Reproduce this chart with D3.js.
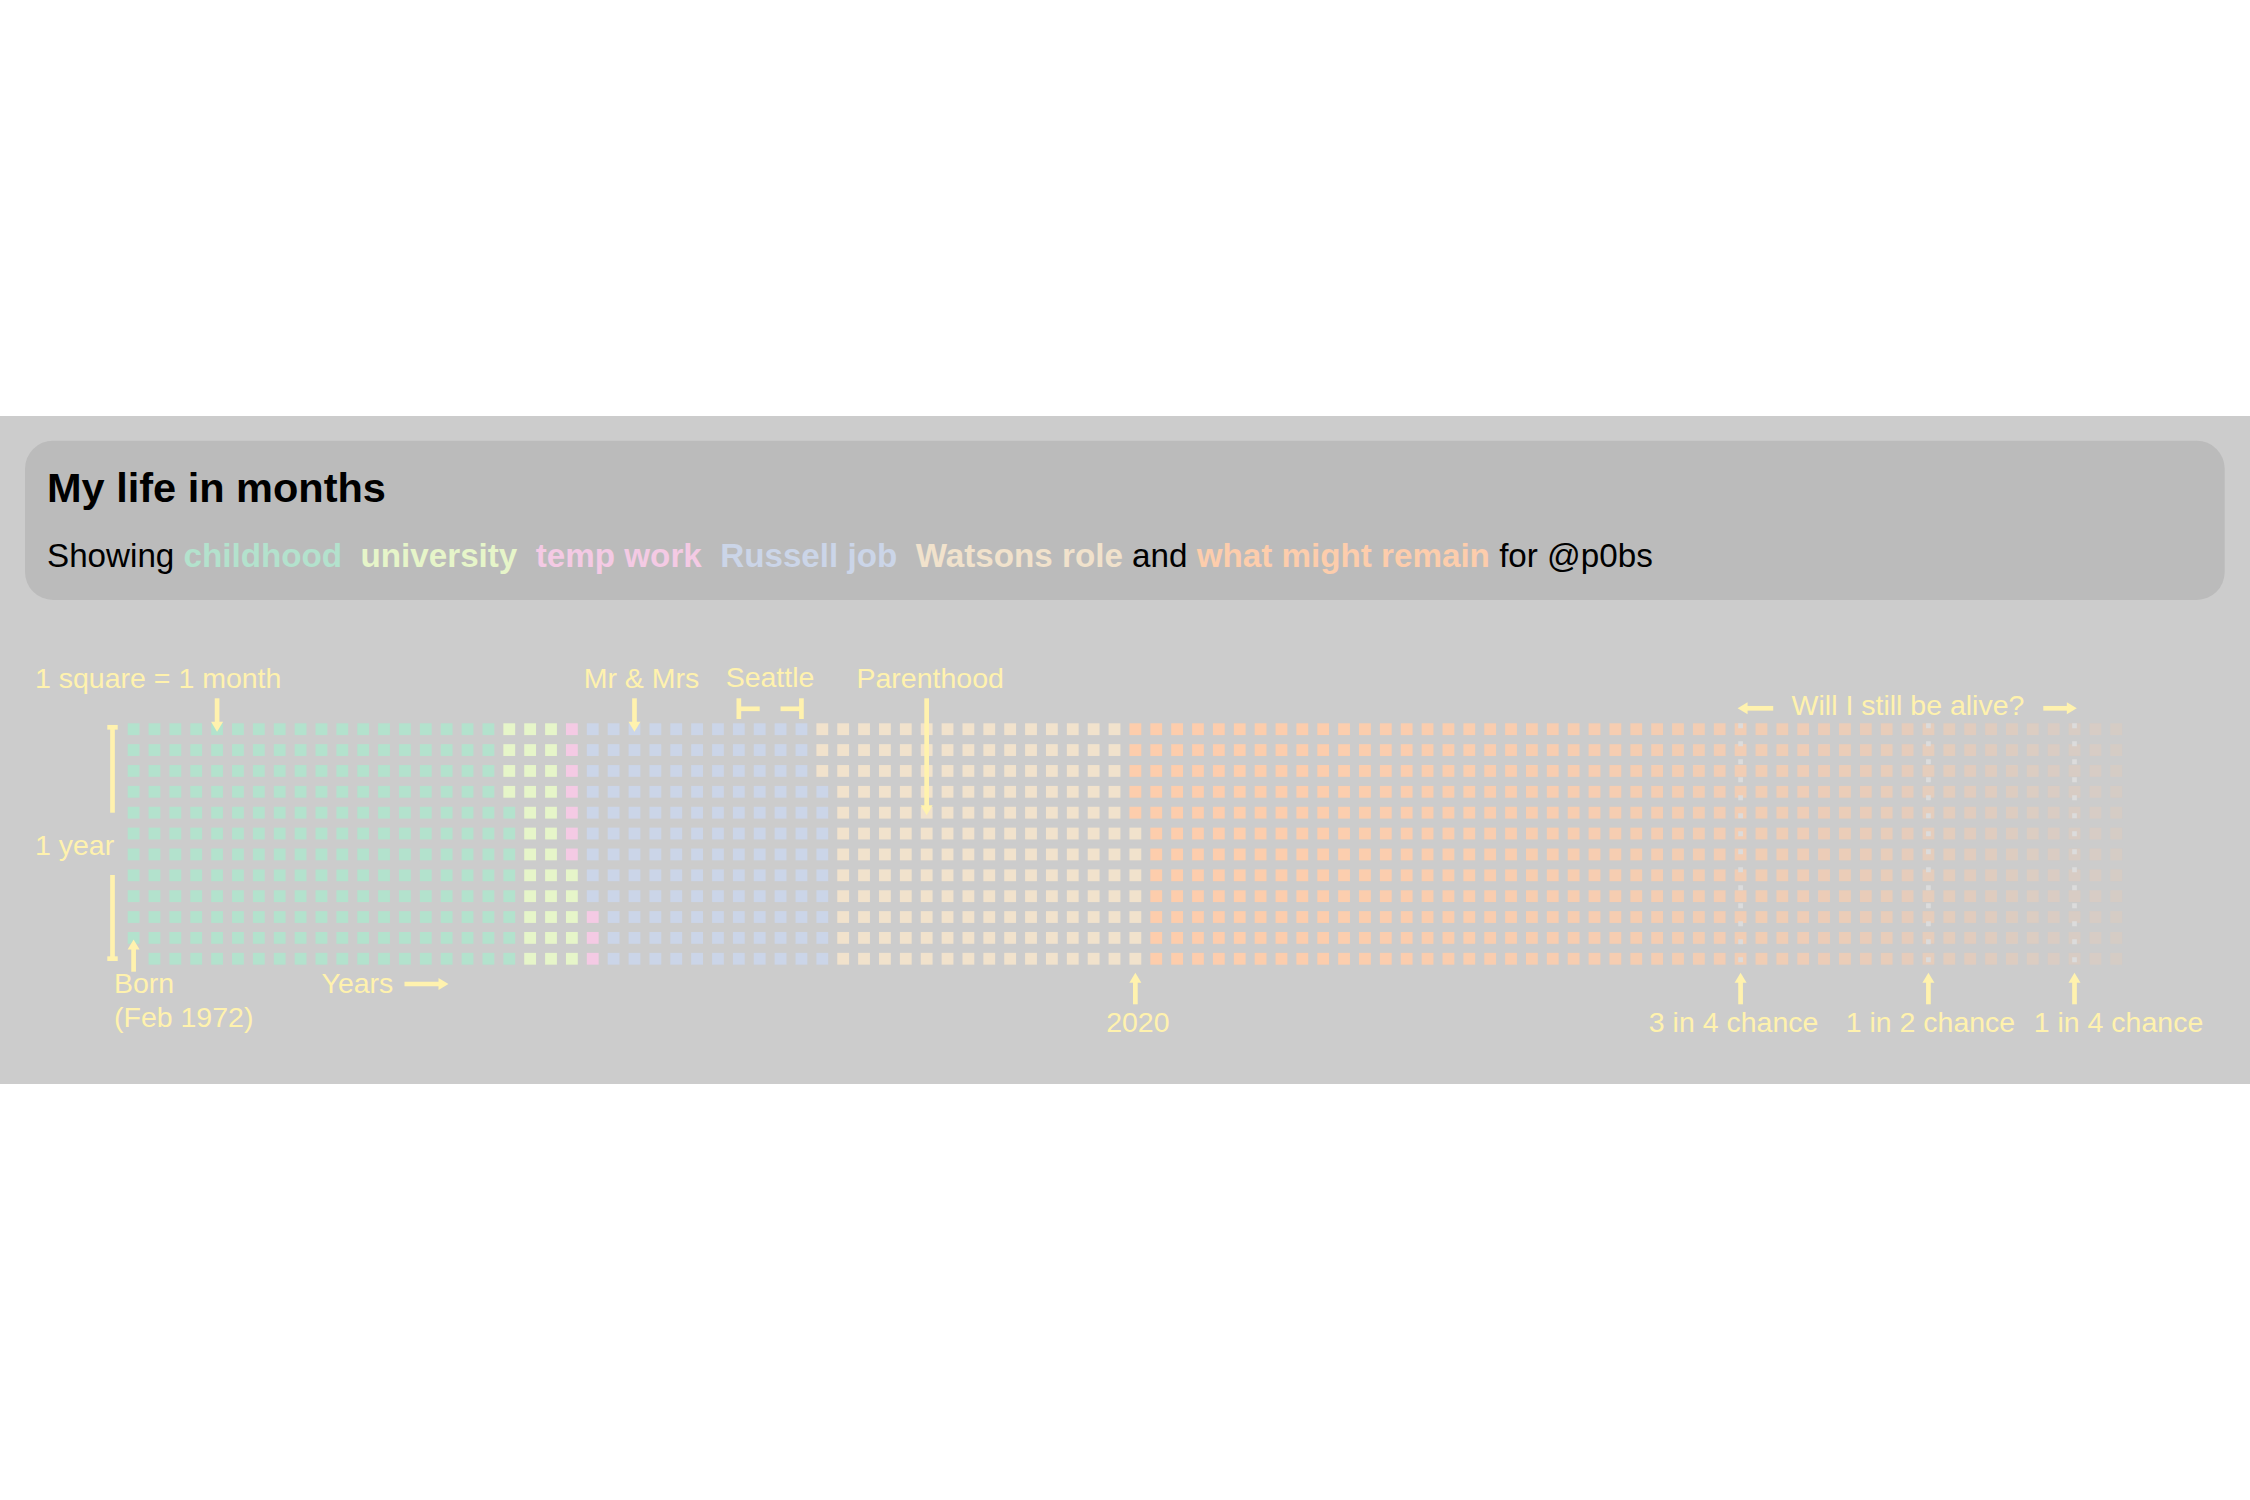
<!DOCTYPE html>
<html>
<head>
<meta charset="utf-8">
<script src="https://cdn.jsdelivr.net/npm/d3@7"></script>
<style>
html,body{margin:0;padding:0;background:#ffffff;}
svg{display:block;}
text{font-family:"Liberation Sans",Arial,Helvetica,sans-serif;}
</style>
</head>
<body>
<svg id="chart" width="2250" height="1500"></svg>
<script>
// ---------------- DATA ----------------
const years = d3.range(1972, 2068);            // one column per calendar year
const monthNumbers = [12,11,10,9,8,7,6,5,4,3,2,1]; // rows, Dec at top, Jan at bottom
const birthYear = 1972, birthMonth = 2;
const lastYear = 2067, lastMonth = 12;

const phaseNames  = ["childhood","university","temp work","Russell job","Watsons role","what might remain"];
const phaseColors = ["#b3e2cd","#e6f5c9","#f4cae4","#cbd5e8","#f1e2cc","#fdcdac"];
const phaseStartYear  = [1972, 1990, 1993, 1994, 2005, 2020];
const phaseStartMonth = [2,    9,    6,    4,    10,   8];

// estimated chance of still being alive, per year from 2020 (opacity of future squares)
const survivalYears = d3.range(2020, 2068);
const survival = [1.00,0.998,0.996,0.993,0.991,0.988,0.985,0.981,0.977,0.973,
                  0.969,0.964,0.958,0.952,0.946,0.939,0.931,0.923,0.914,0.904,
                  0.893,0.882,0.869,0.856,0.841,0.825,0.808,0.79,0.771,0.75,
                  0.728,0.704,0.679,0.653,0.625,0.595,0.565,0.533,0.5,0.467,
                  0.433,0.398,0.363,0.328,0.294,0.25,0.22,0.19];

const chanceYears  = [2049, 2058, 2065];
const chanceLabels = ["3 in 4 chance","1 in 2 chance","1 in 4 chance"];

const titleText = "My life in months";

// ---------------- LAYOUT ----------------
const yellow = "#fff2ae";
const svg = d3.select("#chart");

svg.append("rect").attr("x",0).attr("y",416).attr("width",2250).attr("height",668).attr("fill","#cccccc");
svg.append("rect").attr("x",25).attr("y",440.7).attr("width",2199.7).attr("height",159.3)
   .attr("rx",28).attr("ry",28).attr("fill","#bbbbbb");

svg.append("text").attr("x",47).attr("y",501.7).attr("font-size",41.5).attr("font-weight","bold")
   .attr("fill","#000").text(titleText);

const sub = svg.append("text").attr("x",47).attr("y",566.7).attr("font-size",33.2)
   .attr("fill","#000").attr("xml:space","preserve").style("white-space","pre");
sub.append("tspan").text("Showing ");
phaseNames.forEach((n,i) => {
  sub.append("tspan").attr("font-weight","bold").attr("fill",phaseColors[i]).text(n);
  if (i < phaseNames.length - 2) sub.append("tspan").text("  ");
  else if (i === phaseNames.length - 2) sub.append("tspan").text(" and ");
});
sub.append("tspan").text(" for @p0bs");

// scales
const x = d3.scaleBand().domain(years).range([127.7, 127.7 + 20.87*(years.length - 0.4346)])
            .paddingInner(0.4346).paddingOuter(0);
const y = d3.scaleBand().domain(monthNumbers).range([723.3, 723.3 + 20.87*(12 - 0.4346)])
            .paddingInner(0.4346).paddingOuter(0);
const bw = x.bandwidth(), bh = y.bandwidth();
const cx = yr => x(yr) + bw/2;
const cy = m => y(m) + bh/2;

// cells
const cells = [];
const idx = (yr,m) => yr*12 + m;
years.forEach(yr => {
  monthNumbers.forEach(m => {
    const k = idx(yr,m);
    if (k < idx(birthYear,birthMonth) || k > idx(lastYear,lastMonth)) return;
    let p = 0;
    for (let i = 0; i < phaseNames.length; i++)
      if (k >= idx(phaseStartYear[i], phaseStartMonth[i])) p = i;
    const op = (p === phaseNames.length - 1) ? survival[survivalYears.indexOf(yr)] : 1;
    cells.push({year:yr, month:m, phase:p, opacity:op});
  });
});

svg.append("g").selectAll("rect").data(cells).join("rect")
  .attr("x", d => x(d.year)).attr("y", d => y(d.month))
  .attr("width", bw).attr("height", bh)
  .attr("fill", d => phaseColors[d.phase])
  .attr("fill-opacity", d => d.opacity);

// dotted chance lines
svg.append("g").selectAll("line").data(chanceYears).join("line")
  .attr("x1", d => cx(d)).attr("x2", d => cx(d))
  .attr("y1", y(12)).attr("y2", y(1) + bh)
  .attr("stroke","#dcdcdc").attr("stroke-width",4.7).attr("stroke-dasharray","5,13");

// ---------------- ANNOTATIONS ----------------
const ann = svg.append("g").attr("fill", yellow).attr("stroke", yellow);
const SW = 4.7;
function arrow(x1,y1,x2,y2){
  const dx = x2-x1, dy = y2-y1, L = Math.hypot(dx,dy), ux = dx/L, uy = dy/L;
  const hl = 10, hw = 6;
  ann.append("line").attr("x1",x1).attr("y1",y1).attr("x2",x2-ux*(hl-2)).attr("y2",y2-uy*(hl-2))
     .attr("stroke-width",SW).attr("fill","none");
  const bx = x2-ux*hl, by = y2-uy*hl;
  ann.append("path").attr("stroke","none")
     .attr("d",`M${x2},${y2}L${bx-uy*hw},${by+ux*hw}L${bx+uy*hw},${by-ux*hw}Z`);
}
function seg(x1,y1,x2,y2){
  ann.append("line").attr("x1",x1).attr("y1",y1).attr("x2",x2).attr("y2",y2).attr("stroke-width",SW);
}
function label(t,xx,yy,anchor){
  ann.append("text").attr("x",xx).attr("y",yy).attr("stroke","none").attr("font-size",28.5)
     .attr("text-anchor",anchor||"start").text(t);
}
const topY = 698.3, labY = 688.3;

// 1 square = 1 month
label("1 square = 1 month", 35, labY);
arrow(cx(1976), topY, cx(1976), cy(12)+2.5);

// Mr & Mrs
label("Mr & Mrs", cx(1996)+7, labY, "middle");
arrow(cx(1996), topY, cx(1996), cy(12)+2.5);

// Seattle
label("Seattle", 770, labY-1.5, "middle");
seg(cx(2001), topY, cx(2001), 719);
seg(cx(2001), 708.8, cx(2002), 708.8);
seg(cx(2004), topY, cx(2004), 719);
seg(cx(2003), 708.8, cx(2004), 708.8);

// Parenthood
label("Parenthood", cx(2010)+3.5, labY, "middle");
arrow(cx(2010), topY, cx(2010), cy(8)+2.5);

// 1 year bracket
label("1 year", 35, 855);
seg(112.5, y(12)+4, 112.5, 812.7);
seg(107.3, y(12)+4, 117.7, y(12)+4);
seg(112.5, 875, 112.5, y(1)+bh-6);
seg(107.3, y(1)+bh-6, 117.7, y(1)+bh-6);

// Born
arrow(cx(1972), 971.7, cx(1972), cy(2)+1.5);
label("Born", 114, 993.3);
label("(Feb 1972)", 114, 1026.7);

// Years
label("Years", 321.5, 993.3);
arrow(404.5, 984, 448.5, 984);

// 2020
arrow(cx(2020), 1004.3, cx(2020), 972.7);
label("2020", cx(2020)+2.5, 1031.7, "middle");

// chances
const chanceDx = [-7, 2, 44];
chanceYears.forEach((yr,i) => {
  arrow(cx(yr), 1004.3, cx(yr), 972.7);
  label(chanceLabels[i], cx(yr)+chanceDx[i], 1031.7, "middle");
});

// Will I still be alive?
label("Will I still be alive?", 1908, 715, "middle");
arrow(1773.2, 708.3, cx(2049)-3, 708.3);
arrow(2043.3, 708.3, cx(2065)+2.3, 708.3);
</script>
</body>
</html>
